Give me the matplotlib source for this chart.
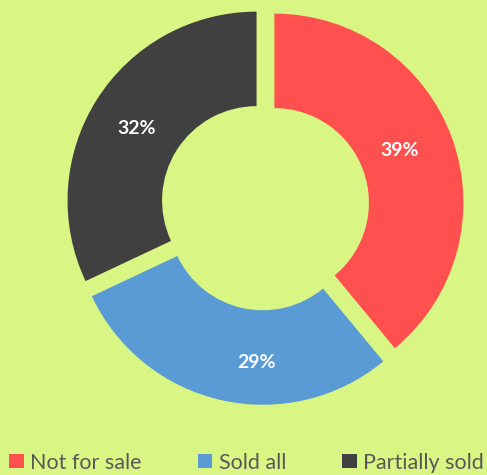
import matplotlib.pyplot as plt

labels = ["Not for sale", "Sold all", "Partially sold"]
shares = [39, 29, 32]
colors = ["#ff5050", "#5b9bd5", "#404040"]

BG = "#d9f584"
W, H = 487, 475


def plot():
    fig = plt.figure(figsize=(W / 100, H / 100), dpi=100, facecolor=BG)
    ax = fig.add_axes([0, 0, 1, 1])
    ax.set_facecolor(BG)

    # explode is in data units here (1 unit = 1 px)
    wedges, texts = ax.pie(
        shares,
        colors=colors,
        startangle=90,
        counterclock=False,
        center=(265, H - 206),
        radius=189,
        explode=[10, 10, 10],
        wedgeprops=dict(width=189 * 0.5, linewidth=0),
    )
    ax.set_xlim(0, W)
    ax.set_ylim(0, H)
    ax.set_aspect("auto")
    ax.axis("off")

    # percentage labels
    pos = [(400, 150), (256, 362), (137, 128)]
    for (x, y), s in zip(pos, shares):
        ax.text(x, H - y, f"{s}%", color="white", fontsize=14, fontweight="bold",
                family="Lato", ha="center", va="center")

    leg = fig.legend(wedges, labels, loc="lower left", bbox_to_anchor=(-0.008, -0.022),
                     ncol=3, frameon=False, prop=dict(family="Lato", size=15.5),
                     handlelength=0.68, handleheight=0.68, handletextpad=0.3,
                     columnspacing=2.6, borderaxespad=0.2)
    for t in leg.get_texts():
        t.set_color("#595959")

    fig.savefig("out.png", dpi=100, facecolor=BG)
    return fig, ax


if __name__ == '__main__':
    plot()
